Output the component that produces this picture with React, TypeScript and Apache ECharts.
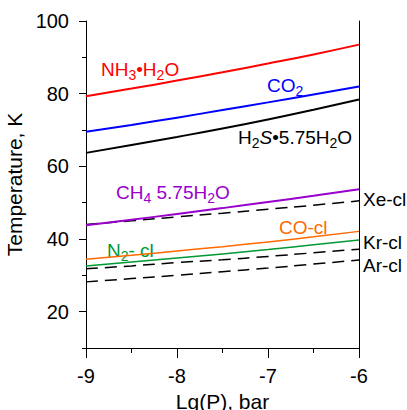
import React, { useEffect, useRef } from "react";
import * as echarts from "echarts";

const xs = [-9, -8.5, -8, -7.5, -7, -6.5, -6];
const nh3 = [79.3, 81.4, 83.6, 85.9, 88.3, 90.8, 93.5];
const co2 = [69.5, 71.4, 73.4, 75.5, 77.6, 79.8, 82.0];
const h2s = [63.7, 65.9, 68.1, 70.4, 72.9, 75.6, 78.4];
const ch4 = [43.8, 45.3, 46.9, 48.5, 50.2, 51.9, 53.7];
const xe = [44.0, 45.0, 46.1, 47.1, 48.2, 49.3, 50.5];
const co = [34.4, 35.5, 36.7, 37.9, 39.2, 40.6, 42.1];
const n2 = [32.6, 33.7, 34.8, 35.9, 37.1, 38.4, 39.7];
const kr = [31.8, 32.6, 33.5, 34.3, 35.2, 36.2, 37.2];
const ar = [28.2, 29.1, 30.0, 31.0, 32.0, 33.1, 34.2];
const yMajor = [20, 40, 60, 80, 100];
const yMinor = [10, 30, 50, 70, 90];

const FONT = "Arial, 'Liberation Sans', sans-serif";

function pts(ys: number[]) {
  return xs.map((x, i) => [x, ys[i]]);
}

function rich(color: string) {
  return {
    a: { fontSize: 19, fontFamily: FONT, fill: color },
    s: { fontSize: 14, fontFamily: FONT, fill: color, padding: [11, 0, 0, 0] },
    i: { fontSize: 19, fontFamily: FONT, fill: color, fontStyle: "italic" },
  };
}

function label(x: number, y: number, text: string, color: string) {
  return {
    type: "text",
    left: x,
    top: y,
    style: { text, rich: rich(color), fill: color, fontSize: 19, fontFamily: FONT },
  };
}

export default function App() {
  const ref = useRef<HTMLDivElement>(null);
  useEffect(() => {
    document.body.style.margin = "0";
    const chart = echarts.init(ref.current!, undefined, { renderer: "svg" });
    const line = (data: number[], color: string, width: number, dashed = false) => ({
      type: "line",
      data: pts(data),
      smooth: true,
      showSymbol: false,
      symbol: "none",
      lineStyle: { color, width, type: dashed ? [12, 7] : "solid" },
      z: dashed ? 2 : 3,
    });
    chart.setOption({
      animation: false,
      grid: { left: 86, right: 48, top: 21, bottom: 62, outerBoundsMode: "none", containLabel: false },
      xAxis: {
        type: "value",
        min: -9,
        max: -6,
        interval: 1,
        name: "Lg(P), bar",
        nameLocation: "middle",
        nameGap: 41,
        nameTextStyle: { fontSize: 21, fontFamily: FONT, color: "#000" },
        axisLine: { show: true, lineStyle: { color: "#000", width: 1 } },
        axisTick: { show: true, length: 10, lineStyle: { color: "#000" } },
        minorTick: { show: true, splitNumber: 2, length: 5, lineStyle: { color: "#000" } },
        axisLabel: { fontSize: 20, fontFamily: FONT, color: "#000", margin: 18 },
        splitLine: { show: false },
        minorSplitLine: { show: false },
      },
      yAxis: [
        {
          type: "value",
          min: 10,
          max: 100,
          position: "left",
          name: "Temperature, K",
          nameLocation: "middle",
          nameGap: 46,
          nameTextStyle: { fontSize: 21, fontFamily: FONT, color: "#000" },
          axisLine: { show: true, lineStyle: { color: "#000", width: 1 } },
          axisTick: { show: true, length: 7, customValues: yMajor, lineStyle: { color: "#000" } },
          axisLabel: { fontSize: 20, fontFamily: FONT, color: "#000", margin: 17, customValues: yMajor },
          splitLine: { show: false },
        },
        {
          type: "value",
          min: 10,
          max: 100,
          position: "left",
          axisLine: { show: false },
          axisTick: { show: true, length: 4, customValues: yMinor, lineStyle: { color: "#000" } },
          axisLabel: { show: false },
          splitLine: { show: false },
        },
        {
          type: "value",
          min: 10,
          max: 100,
          position: "right",
          axisLine: { show: true, onZero: false, lineStyle: { color: "#000", width: 1 } },
          axisTick: { show: false },
          axisLabel: { show: false },
          splitLine: { show: false },
        },
      ],
      series: [
        line(nh3, "#ff0000", 2),
        line(co2, "#0000ff", 2),
        line(h2s, "#000000", 2),
        line(ch4, "#9900cc", 2),
        line(xe, "#000000", 1.5, true),
        line(co, "#ff6a00", 1.5),
        line(n2, "#009933", 1.5),
        line(kr, "#000000", 1.5, true),
        line(ar, "#000000", 1.5, true),
      ],
      graphic: [
        label(101, 60, "{a|NH}{s|3}{a|•H}{s|2}{a|O}", "#ff0000"),
        label(267, 76, "{a|CO}{s|2}", "#0000ff"),
        label(238, 128, "{a|H}{s|2}{i|S}{a|•5.75H}{s|2}{a|O}", "#000000"),
        label(116, 183, "{a|CH}{s|4}{a| 5.75H}{s|2}{a|O}", "#9900cc"),
        label(279, 218, "{a|CO-cl}", "#ff6a00"),
        label(107, 241, "{a|N}{s|2}{a|- cl}", "#009933"),
        label(363, 190, "{a|Xe-cl}", "#000000"),
        label(363, 233, "{a|Kr-cl}", "#000000"),
        label(363, 256, "{a|Ar-cl}", "#000000"),
      ],
    });
    return () => chart.dispose();
  }, []);
  return <div ref={ref} style={{ width: 407, height: 410 }} />;
}
